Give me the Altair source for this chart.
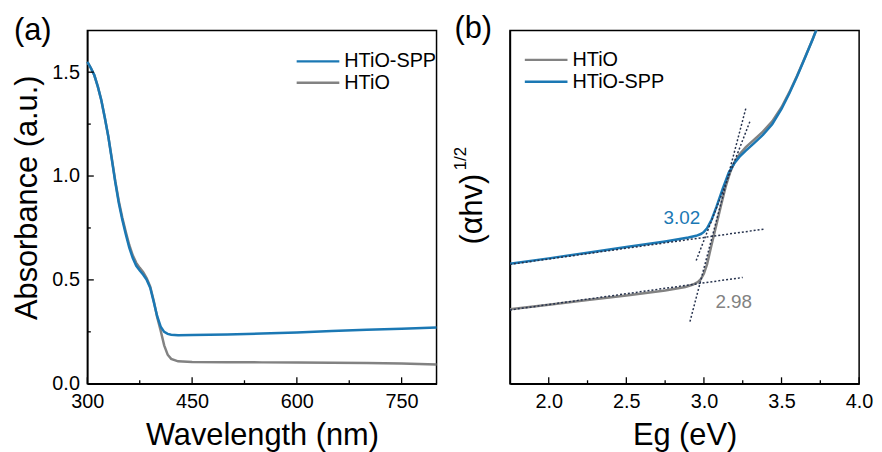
import altair as alt
import pandas as pd

# ---------------- data: panel (a) ----------------
wl = [300, 305, 310, 315, 320, 325, 330, 335, 340, 345, 350, 355, 360, 365, 370,
      375, 380, 385, 390, 395, 400, 405, 410, 415, 420, 430, 450, 500, 550, 600,
      650, 700, 750, 800]
abs_spp = [1.55, 1.52, 1.485, 1.43, 1.365, 1.28, 1.19, 1.08, 0.97, 0.87, 0.79, 0.72,
           0.655, 0.605, 0.568, 0.545, 0.525, 0.50, 0.462, 0.395, 0.325, 0.275, 0.250,
           0.240, 0.236, 0.234, 0.235, 0.237, 0.242, 0.247, 0.254, 0.260, 0.265, 0.271]
abs_htio = [1.55, 1.52, 1.485, 1.43, 1.365, 1.28, 1.19, 1.085, 0.975, 0.88, 0.80, 0.732,
            0.668, 0.618, 0.582, 0.558, 0.537, 0.508, 0.468, 0.40, 0.32, 0.255, 0.185,
            0.140, 0.120, 0.108, 0.105, 0.104, 0.103, 0.102, 0.101, 0.100, 0.098, 0.093]

xa_major = [300, 450, 600, 750]
xa_minor = [375, 525, 675]
ya_major = [0.0, 0.5, 1.0, 1.5]
ya_minor = [0.25, 0.75, 1.25]

# ---------------- data: panel (b) ----------------
eg_spp = [1.75, 2.0, 2.25, 2.5, 2.75, 2.9, 2.95, 2.98, 3.0, 3.02, 3.05, 3.08, 3.12,
          3.16, 3.2, 3.23, 3.27, 3.32, 3.38, 3.44, 3.5, 3.55, 3.6, 3.65, 3.7, 3.74]
ahv_spp = [0.340, 0.355, 0.371, 0.387, 0.403, 0.414, 0.419, 0.424, 0.430, 0.440, 0.465,
           0.500, 0.551, 0.598, 0.627, 0.643, 0.660, 0.680, 0.705, 0.735, 0.778, 0.822,
           0.870, 0.922, 0.975, 1.02]
eg_htio = [1.75, 2.0, 2.25, 2.5, 2.75, 2.88, 2.93, 2.96, 2.98, 3.0, 3.02, 3.05, 3.08,
           3.11, 3.14, 3.17, 3.2, 3.23, 3.27, 3.32, 3.38, 3.44, 3.5, 3.55, 3.6, 3.65,
           3.7, 3.74]
ahv_htio = [0.211, 0.224, 0.237, 0.250, 0.264, 0.274, 0.281, 0.288, 0.296, 0.312, 0.338,
            0.395, 0.450, 0.505, 0.558, 0.600, 0.630, 0.650, 0.670, 0.690, 0.714, 0.743,
            0.783, 0.825, 0.872, 0.923, 0.975, 1.02]

# tangent lines (blue baseline, blue edge, gray baseline, gray edge)
tan_x1 = [1.75, 2.95, 1.75, 2.91]
tan_y1 = [0.338, 0.349, 0.209, 0.176]
tan_x2 = [3.39, 3.30, 3.25, 3.27]
tan_y2 = [0.438, 0.747, 0.301, 0.780]

ann_text = ["3.02", "2.98"]
ann_x = [2.858, 3.192]
ann_y = [0.468, 0.232]

xb_major = [2.0, 2.5, 3.0, 3.5, 4.0]
xb_minor = [2.25, 2.75, 3.25, 3.75]

BLUE = "#1b78b4"
GRAY = "#828282"
DOT = "#26324d"
FONT = "Liberation Sans"
W, H = 352, 356


def one(label=""):
    return pd.DataFrame({"label": [label]})


def ticks(xs_major, xs_minor, ys_major, ys_minor, X, Y):
    layers = []
    for vals, ln in ((xs_major, 6.5), (xs_minor, 3.5)):
        layers.append(
            alt.Chart(pd.DataFrame({"x": vals})).mark_rule(color="black", strokeWidth=1.3)
            .encode(x=X, y=alt.value(H), y2=alt.value(H - ln)))
    if ys_major is not None:
        for vals, ln in ((ys_major, 6.5), (ys_minor, 3.5)):
            layers.append(
                alt.Chart(pd.DataFrame({"y": vals})).mark_rule(color="black", strokeWidth=1.3)
                .encode(y=Y, x=alt.value(0), x2=alt.value(ln)))
    return layers


def legend(entries, x0, x1, y0, dy):
    layers = []
    for i, (name, col) in enumerate(entries):
        yy = y0 + i * dy
        layers.append(alt.Chart(one(name)).mark_rule(color=col, strokeWidth=2.5)
                      .encode(x=alt.value(x0), x2=alt.value(x1), y=alt.value(yy)))
        layers.append(alt.Chart(one(name)).mark_text(align="left", baseline="middle",
                                                     fontSize=20, font=FONT, color="black")
                      .encode(text="label:N", x=alt.value(x1 + 5), y=alt.value(yy)))
    return layers


# ---------------- panel (a) ----------------
xa_axis = alt.Axis(values=xa_major, title="Wavelength (nm)", labelFlush=False,
                   labelOverlap=False, titlePadding=9)
ya_axis = alt.Axis(values=ya_major, format=".1f", title="Absorbance (a.u.)",
                   labelFlush=False, labelOverlap=False, titleX=-44, titleY=168)
XA = alt.X("x:Q", scale=alt.Scale(domain=[300, 800], nice=False, zero=False), axis=xa_axis)
YA = alt.Y("y:Q", scale=alt.Scale(domain=[0, 1.7], nice=False), axis=ya_axis)

dfa_h = pd.DataFrame({"x": wl, "y": abs_htio})
dfa_s = pd.DataFrame({"x": wl, "y": abs_spp})

la_h = alt.Chart(dfa_h).mark_line(color=GRAY, strokeWidth=2.5).encode(x=XA, y=YA)
la_s = alt.Chart(dfa_s).mark_line(color=BLUE, strokeWidth=2.5).encode(x=XA, y=YA)

lab_a = alt.Chart(one("(a)")).mark_text(align="left", baseline="middle", fontSize=31,
                                        font=FONT, color="black").encode(
    text="label:N", x=alt.value(-74), y=alt.value(0))

panel_a = alt.layer(
    la_h, la_s,
    *ticks(xa_major, xa_minor, ya_major, ya_minor, XA, YA),
    *legend([("HTiO-SPP", BLUE), ("HTiO", GRAY)], 211, 254, 31, 21.5),
    lab_a,
).properties(width=W, height=H)

# ---------------- panel (b) ----------------
xb_axis = alt.Axis(values=xb_major, format=".1f", title="Eg (eV)", labelFlush=False,
                   labelOverlap=False, titlePadding=9)
yb_axis = alt.Axis(labels=False, title=None, grid=False)
XB = alt.X("x:Q", scale=alt.Scale(domain=[1.75, 4.0], nice=False, zero=False), axis=xb_axis)
YB = alt.Y("y:Q", scale=alt.Scale(domain=[0, 1], nice=False), axis=yb_axis)

dfb_h = pd.DataFrame({"x": eg_htio, "y": ahv_htio})
dfb_s = pd.DataFrame({"x": eg_spp, "y": ahv_spp})
dft = pd.DataFrame({"x": tan_x1, "y": tan_y1, "x2": tan_x2, "y2": tan_y2})

lb_h = alt.Chart(dfb_h).mark_line(color=GRAY, strokeWidth=2.5, clip=True).encode(x=XB, y=YB)
lb_s = alt.Chart(dfb_s).mark_line(color=BLUE, strokeWidth=2.5, clip=True).encode(x=XB, y=YB)
tang = alt.Chart(dft).mark_rule(color=DOT, strokeWidth=1.5, strokeDash=[2, 2]).encode(
    x=XB, y=YB, x2="x2:Q", y2="y2:Q")

ann_s = alt.Chart(pd.DataFrame({"x": ann_x[:1], "y": ann_y[:1], "t": ann_text[:1]})).mark_text(
    fontSize=19, font=FONT, color=BLUE).encode(x=XB, y=YB, text="t:N")
ann_h = alt.Chart(pd.DataFrame({"x": ann_x[1:], "y": ann_y[1:], "t": ann_text[1:]})).mark_text(
    fontSize=19, font=FONT, color=GRAY).encode(x=XB, y=YB, text="t:N")

ytitle = alt.Chart(one("(αhv)")).mark_text(angle=270, align="center", baseline="alphabetic",
                                          fontSize=31, font=FONT, color="black").encode(
    text="label:N", x=alt.value(-28), y=alt.value(180))
ysup = alt.Chart(one("1/2")).mark_text(angle=270, align="center", baseline="alphabetic",
                                       fontSize=17, font=FONT, color="black").encode(
    text="label:N", x=alt.value(-44), y=alt.value(129))
lab_b = alt.Chart(one("(b)")).mark_text(align="left", baseline="middle", fontSize=31,
                                        font=FONT, color="black").encode(
    text="label:N", x=alt.value(-56), y=alt.value(-2))

panel_b = alt.layer(
    lb_h, lb_s, tang, ann_s, ann_h,
    *ticks(xb_major, xb_minor, None, None, XB, YB),
    *legend([("HTiO", GRAY), ("HTiO-SPP", BLUE)], 15, 58, 29.5, 22),
    ytitle, ysup, lab_b,
).properties(width=W, height=H)

chart = alt.hconcat(panel_a, panel_b, spacing=74, bounds="flush").properties(
    padding={"left": 3, "top": 2, "right": 0, "bottom": 0}
).configure_axis(
    grid=False, ticks=False, domainColor="black", domainWidth=1.5,
    labelFont=FONT, labelFontSize=20, labelColor="black", labelPadding=8,
    titleFont=FONT, titleFontSize=31, titleFontWeight="normal", titleColor="black",
).configure_view(stroke="black", strokeWidth=1.5)

chart.save("out.html", embed_options={"renderer": "svg", "actions": False})
